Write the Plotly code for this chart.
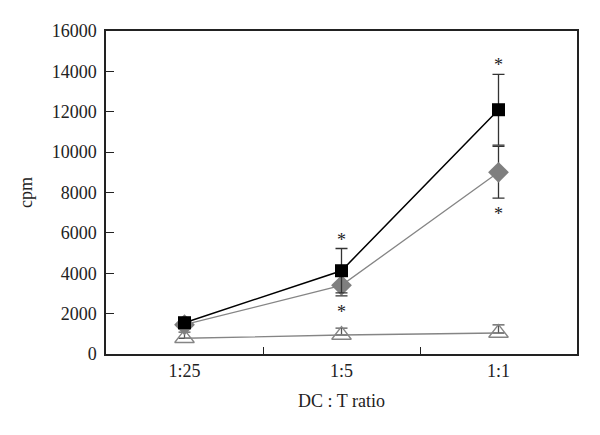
import plotly.graph_objects as go

categories = ["1:25", "1:5", "1:1"]

square_vals = [1550, 4125, 12100]
square_err = [250, 1100, 1750]

diamond_vals = [1450, 3400, 9000]
diamond_err = [200, 520, 1280]

triangle_vals = [780, 940, 1040]
triangle_err = [300, 340, 400]

star_top = {"1:5": "square", "1:1": "square"}   # asterisk above square error bar
star_bottom = {"1:5": "diamond", "1:1": "diamond"}  # asterisk below diamond error bar

FONT = "Liberation Serif"
GRAY = "#858585"

fig = go.Figure()

fig.add_trace(go.Scatter(
    x=categories, y=triangle_vals, mode="lines+markers",
    line=dict(color=GRAY, width=1.3),
    marker=dict(symbol="triangle-up-open", size=17, color=GRAY, line=dict(width=1.3, color=GRAY)),
    error_y=dict(type="data", array=triangle_err, symmetric=False, arrayminus=[0, 0, 0],
                 color="#555555", thickness=1.3, width=6),
))
fig.add_trace(go.Scatter(
    x=categories, y=diamond_vals, mode="lines+markers",
    line=dict(color=GRAY, width=1.3),
    marker=dict(symbol="diamond", size=16, color="#7f7f7f"),
    error_y=dict(type="data", array=diamond_err, color="#333333", thickness=1.3, width=6),
))
fig.add_trace(go.Scatter(
    x=categories, y=square_vals, mode="lines+markers",
    line=dict(color="black", width=1.5),
    marker=dict(symbol="square", size=13, color="black"),
    error_y=dict(type="data", array=square_err, color="#333333", thickness=1.3, width=6),
))

for i, c in enumerate(categories):
    if c in star_top:
        fig.add_annotation(x=c, y=square_vals[i] + square_err[i], text="*", showarrow=False,
                           yanchor="bottom", yshift=-3,
                           font=dict(family=FONT, size=18, color="#222"))
    if c in star_bottom:
        fig.add_annotation(x=c, y=diamond_vals[i] - diamond_err[i], text="*", showarrow=False,
                           yanchor="top", yshift=-4,
                           font=dict(family=FONT, size=18, color="#222"))

# page body has an 8px margin, so the figure is drawn 8px in from the window edge
fig.update_layout(
    width=592, height=427,
    margin=dict(l=98, r=23, t=23, b=81, autoexpand=False),
    paper_bgcolor="white", plot_bgcolor="white",
    showlegend=False,
    font=dict(family=FONT, size=18, color="#222"),
    xaxis=dict(
        type="category", range=[-0.5, 2.5], tickson="boundaries",
        ticks="inside", ticklen=7, tickcolor="#222", tickwidth=1.2,
        showline=True, linecolor="#222", linewidth=1.5, mirror=True,
        showgrid=False, zeroline=False, automargin=False,
        title=dict(text="DC : T ratio", standoff=14, font=dict(family=FONT, size=18)),
        tickfont=dict(family=FONT, size=18),
    ),
    yaxis=dict(
        range=[0, 16000], dtick=2000, tickformat="d",
        ticks="inside", ticklen=8, tickcolor="#222", tickwidth=1.2,
        showline=True, linecolor="#222", linewidth=1.5, mirror=True,
        showgrid=False, zeroline=False, automargin=False,
        ticklabelstandoff=4,
        title=dict(text="cpm", standoff=14, font=dict(family=FONT, size=18)),
        tickfont=dict(family=FONT, size=18),
    ),
)

fig.write_html("out.html")
